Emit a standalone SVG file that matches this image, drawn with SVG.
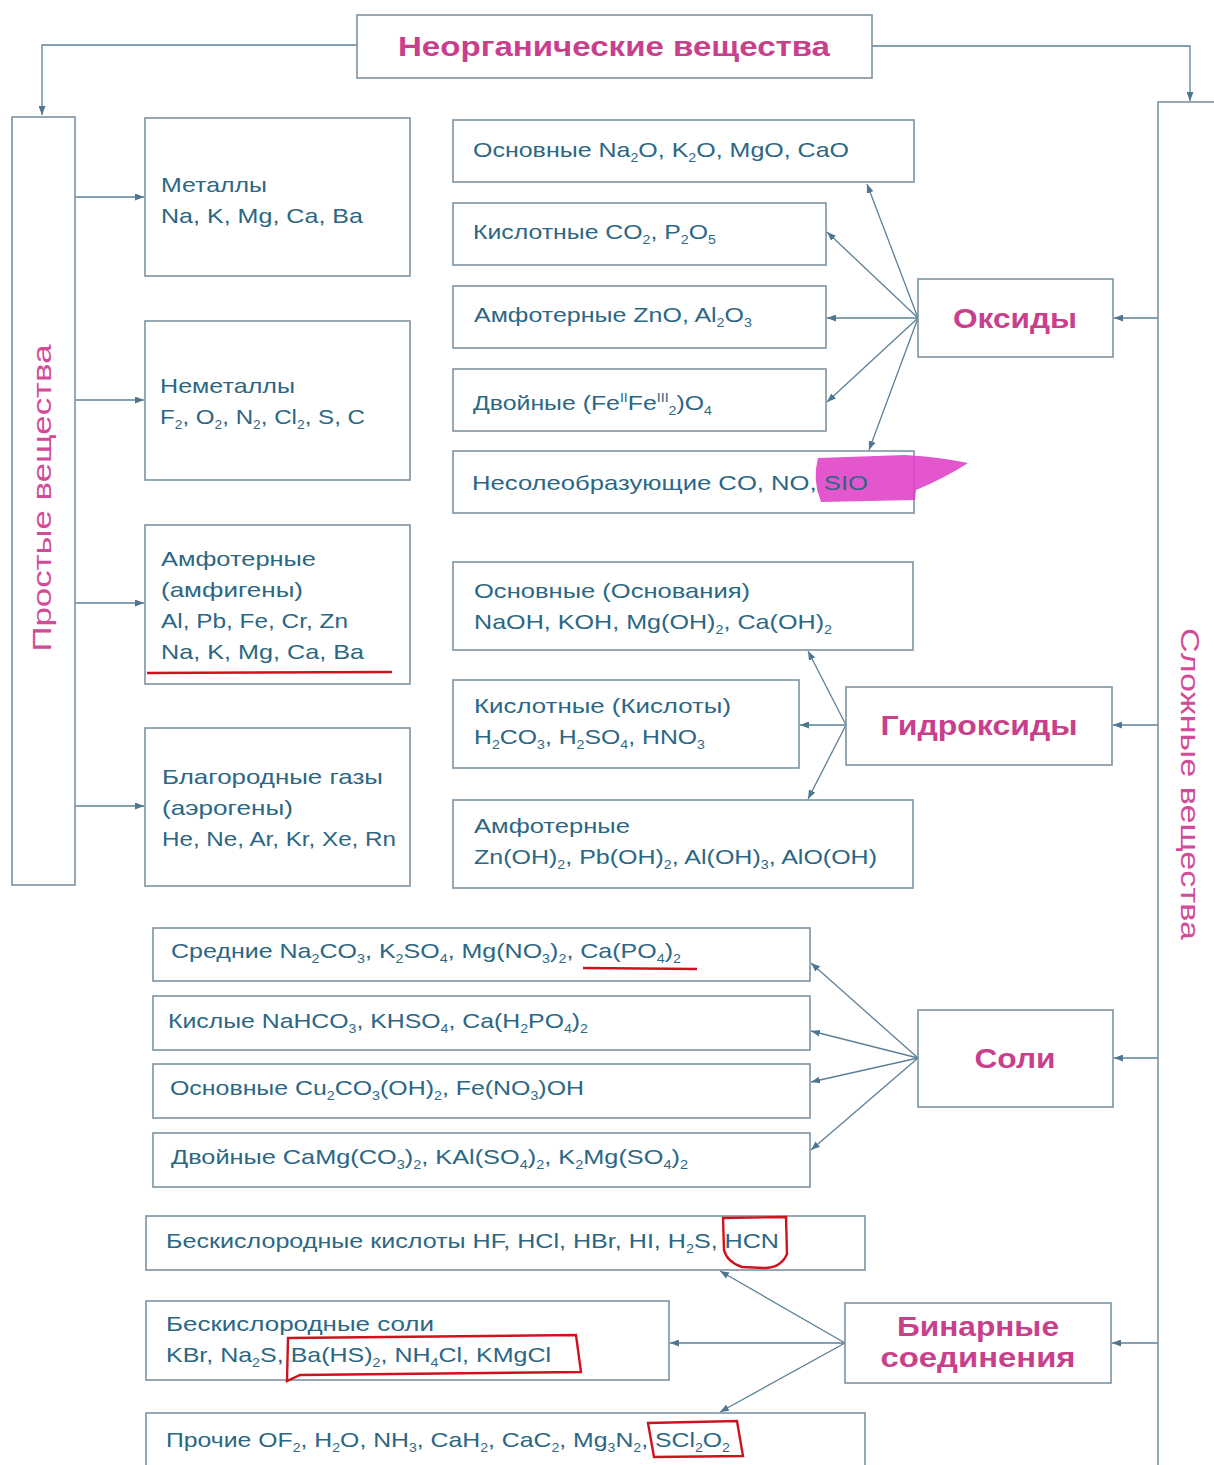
<svg xmlns="http://www.w3.org/2000/svg" width="1214" height="1465" viewBox="0 0 1214 1465">
<style>
.bx{fill:#fff;stroke:#7c93a2;stroke-width:1.6}
.t{font-family:"Liberation Sans",Arial,sans-serif;font-size:21px;fill:#2c6784}
.h{font-family:"Liberation Sans",Arial,sans-serif;font-weight:bold;fill:#c83f8c}
.v{font-family:"Liberation Sans",Arial,sans-serif;font-size:26px;fill:#d24a98}
.s{font-size:12px;baseline-shift:-5px}
.p{font-size:12px;baseline-shift:8px}
.c{fill:none;stroke:#5d8096;stroke-width:1.3}
.red{fill:none;stroke:#d0121f;stroke-width:2.4}
</style>
<defs>
<marker id="a" markerWidth="9" markerHeight="7" refX="9" refY="3.5" orient="auto" markerUnits="userSpaceOnUse">
<path d="M0,0 L9,3.5 L0,7 z" fill="#4f7690"/>
</marker>
</defs>
<rect width="1214" height="1465" fill="#fff"/>

<g id="connectors">
<path class="c" d="M357,45 H42 V115" marker-end="url(#a)"/>
<path class="c" d="M872,46 H1190 V101" marker-end="url(#a)"/>
<path class="c" d="M75,197 H144" marker-end="url(#a)"/>
<path class="c" d="M75,400 H144" marker-end="url(#a)"/>
<path class="c" d="M75,603 H144" marker-end="url(#a)"/>
<path class="c" d="M75,806 H144" marker-end="url(#a)"/>
<path class="c" d="M1158,318 H1114" marker-end="url(#a)"/>
<path class="c" d="M1158,725 H1113" marker-end="url(#a)"/>
<path class="c" d="M1158,1058 H1114" marker-end="url(#a)"/>
<path class="c" d="M1158,1343 H1112" marker-end="url(#a)"/>
<path class="c" d="M918,318 L867,184" marker-end="url(#a)"/>
<path class="c" d="M918,318 L827,232" marker-end="url(#a)"/>
<path class="c" d="M918,318 H827" marker-end="url(#a)"/>
<path class="c" d="M918,318 L827,402" marker-end="url(#a)"/>
<path class="c" d="M918,318 L869,450" marker-end="url(#a)"/>
<path class="c" d="M846,725 L808,651" marker-end="url(#a)"/>
<path class="c" d="M846,725 H800" marker-end="url(#a)"/>
<path class="c" d="M846,725 L808,799" marker-end="url(#a)"/>
<path class="c" d="M918,1058 L811,963" marker-end="url(#a)"/>
<path class="c" d="M918,1058 L811,1031" marker-end="url(#a)"/>
<path class="c" d="M918,1058 L811,1082" marker-end="url(#a)"/>
<path class="c" d="M918,1058 L811,1150" marker-end="url(#a)"/>
<path class="c" d="M845,1343 L720,1271" marker-end="url(#a)"/>
<path class="c" d="M845,1343 H670" marker-end="url(#a)"/>
<path class="c" d="M845,1343 L720,1412" marker-end="url(#a)"/>
</g>

<g id="n-inorganic">
<rect class="bx" x="357" y="15" width="515" height="63"/>
<text class="h" x="614" y="56" font-size="28" text-anchor="middle" textLength="432" lengthAdjust="spacingAndGlyphs">Неорганические вещества</text>
</g>

<g id="n-simple">
<rect class="bx" x="12" y="117" width="63" height="768"/>
<text class="v" transform="translate(51,498) rotate(-90)" text-anchor="middle" textLength="307" lengthAdjust="spacingAndGlyphs">Простые вещества</text>
</g>

<g id="n-complex">
<rect class="bx" x="1158" y="102" width="70" height="1380"/>
<text class="v" transform="translate(1181,784) rotate(90)" text-anchor="middle" textLength="312" lengthAdjust="spacingAndGlyphs">Сложные вещества</text>
</g>

<g id="n-metals">
<rect class="bx" x="145" y="118" width="265" height="158"/>
<text class="t" x="161" y="192" textLength="106" lengthAdjust="spacingAndGlyphs">Металлы</text>
<text class="t" x="161" y="223" textLength="202" lengthAdjust="spacingAndGlyphs">Na, K, Mg, Ca, Ba</text>
</g>

<g id="n-nonmetals">
<rect class="bx" x="145" y="321" width="265" height="159"/>
<text class="t" x="160" y="393" textLength="135" lengthAdjust="spacingAndGlyphs">Неметаллы</text>
<text class="t" x="160" y="424" textLength="205" lengthAdjust="spacingAndGlyphs">F<tspan class="s">2</tspan>, O<tspan class="s">2</tspan>, N<tspan class="s">2</tspan>, Cl<tspan class="s">2</tspan>, S, C</text>
</g>

<g id="n-amph-simple">
<rect class="bx" x="145" y="525" width="265" height="159"/>
<text class="t" x="161" y="566" textLength="155" lengthAdjust="spacingAndGlyphs">Амфотерные</text>
<text class="t" x="161" y="597" textLength="142" lengthAdjust="spacingAndGlyphs">(амфигены)</text>
<text class="t" x="161" y="628" textLength="187" lengthAdjust="spacingAndGlyphs">Al, Pb, Fe, Cr, Zn</text>
<text class="t" x="161" y="659" textLength="203" lengthAdjust="spacingAndGlyphs">Na, K, Mg, Ca, Ba</text>
<path class="red" d="M147,673 L392,672"/>
</g>

<g id="n-noble">
<rect class="bx" x="145" y="728" width="265" height="158"/>
<text class="t" x="162" y="784" textLength="221" lengthAdjust="spacingAndGlyphs">Благородные газы</text>
<text class="t" x="162" y="815" textLength="131" lengthAdjust="spacingAndGlyphs">(аэрогены)</text>
<text class="t" x="162" y="846" textLength="234" lengthAdjust="spacingAndGlyphs">He, Ne, Ar, Kr, Xe, Rn</text>
</g>

<g id="n-ox-basic">
<rect class="bx" x="453" y="120" width="461" height="62"/>
<text class="t" x="473" y="157" textLength="376" lengthAdjust="spacingAndGlyphs">Основные Na<tspan class="s">2</tspan>O, K<tspan class="s">2</tspan>O, MgO, CaO</text>
</g>
<g id="n-ox-acid">
<rect class="bx" x="453" y="203" width="373" height="62"/>
<text class="t" x="473" y="239" textLength="243" lengthAdjust="spacingAndGlyphs">Кислотные CO<tspan class="s">2</tspan>, P<tspan class="s">2</tspan>O<tspan class="s">5</tspan></text>
</g>
<g id="n-ox-amph">
<rect class="bx" x="453" y="286" width="373" height="62"/>
<text class="t" x="474" y="322" textLength="278" lengthAdjust="spacingAndGlyphs">Амфотерные ZnO, Al<tspan class="s">2</tspan>O<tspan class="s">3</tspan></text>
</g>
<g id="n-ox-double">
<rect class="bx" x="453" y="369" width="373" height="62"/>
<text class="t" x="473" y="410" textLength="239" lengthAdjust="spacingAndGlyphs">Двойные (Fe<tspan class="p">II</tspan>Fe<tspan class="p">III</tspan><tspan class="s">2</tspan>)O<tspan class="s">4</tspan></text>
</g>
<g id="n-ox-nonsalt">
<rect class="bx" x="453" y="451" width="461" height="62"/>
<path d="M818,458 L905,455 Q940,457 968,463 Q945,478 916,490 L915,500 L821,502 Q812,480 818,458 Z" fill="#e03fc6" opacity="0.88"/>
<text class="t" x="472" y="490" textLength="396" lengthAdjust="spacingAndGlyphs">Несолеобразующие  CO, NO, SIO</text>
</g>
<g id="n-oxides">
<rect class="bx" x="918" y="279" width="195" height="78"/>
<text class="h" x="1015" y="328" font-size="27" text-anchor="middle" textLength="124" lengthAdjust="spacingAndGlyphs">Оксиды</text>
</g>

<g id="n-hy-basic">
<rect class="bx" x="453" y="562" width="460" height="88"/>
<text class="t" x="474" y="598" textLength="276" lengthAdjust="spacingAndGlyphs">Основные (Основания)</text>
<text class="t" x="474" y="629" textLength="358" lengthAdjust="spacingAndGlyphs">NaOH, KOH, Mg(OH)<tspan class="s">2</tspan>, Ca(OH)<tspan class="s">2</tspan></text>
</g>
<g id="n-hy-acid">
<rect class="bx" x="453" y="680" width="346" height="88"/>
<text class="t" x="474" y="713" textLength="257" lengthAdjust="spacingAndGlyphs">Кислотные (Кислоты)</text>
<text class="t" x="474" y="744" textLength="231" lengthAdjust="spacingAndGlyphs">H<tspan class="s">2</tspan>CO<tspan class="s">3</tspan>, H<tspan class="s">2</tspan>SO<tspan class="s">4</tspan>, HNO<tspan class="s">3</tspan></text>
</g>
<g id="n-hy-amph">
<rect class="bx" x="453" y="800" width="460" height="88"/>
<text class="t" x="474" y="833" textLength="156" lengthAdjust="spacingAndGlyphs">Амфотерные</text>
<text class="t" x="474" y="864" textLength="403" lengthAdjust="spacingAndGlyphs">Zn(OH)<tspan class="s">2</tspan>, Pb(OH)<tspan class="s">2</tspan>, Al(OH)<tspan class="s">3</tspan>, AlO(OH)</text>
</g>
<g id="n-hydroxides">
<rect class="bx" x="846" y="687" width="266" height="78"/>
<text class="h" x="979" y="735" font-size="27" text-anchor="middle" textLength="197" lengthAdjust="spacingAndGlyphs">Гидроксиды</text>
</g>

<g id="n-salt-mid">
<rect class="bx" x="153" y="928" width="657" height="53"/>
<text class="t" x="171" y="958" textLength="510" lengthAdjust="spacingAndGlyphs">Средние Na<tspan class="s">2</tspan>CO<tspan class="s">3</tspan>, K<tspan class="s">2</tspan>SO<tspan class="s">4</tspan>, Mg(NO<tspan class="s">3</tspan>)<tspan class="s">2</tspan>, Ca(PO<tspan class="s">4</tspan>)<tspan class="s">2</tspan></text>
<path class="red" d="M583,968 L697,969"/>
</g>
<g id="n-salt-acid">
<rect class="bx" x="153" y="996" width="657" height="54"/>
<text class="t" x="168" y="1028" textLength="420" lengthAdjust="spacingAndGlyphs">Кислые NaHCO<tspan class="s">3</tspan>, KHSO<tspan class="s">4</tspan>, Ca(H<tspan class="s">2</tspan>PO<tspan class="s">4</tspan>)<tspan class="s">2</tspan></text>
</g>
<g id="n-salt-basic">
<rect class="bx" x="153" y="1064" width="657" height="54"/>
<text class="t" x="170" y="1095" textLength="414" lengthAdjust="spacingAndGlyphs">Основные Cu<tspan class="s">2</tspan>CO<tspan class="s">3</tspan>(OH)<tspan class="s">2</tspan>, Fe(NO<tspan class="s">3</tspan>)OH</text>
</g>
<g id="n-salt-double">
<rect class="bx" x="153" y="1133" width="657" height="54"/>
<text class="t" x="171" y="1164" textLength="517" lengthAdjust="spacingAndGlyphs">Двойные CaMg(CO<tspan class="s">3</tspan>)<tspan class="s">2</tspan>, KAl(SO<tspan class="s">4</tspan>)<tspan class="s">2</tspan>, K<tspan class="s">2</tspan>Mg(SO<tspan class="s">4</tspan>)<tspan class="s">2</tspan></text>
</g>
<g id="n-salts">
<rect class="bx" x="918" y="1010" width="195" height="97"/>
<text class="h" x="1015" y="1068" font-size="27" text-anchor="middle" textLength="81" lengthAdjust="spacingAndGlyphs">Соли</text>
</g>

<g id="n-bin-acid">
<rect class="bx" x="146" y="1216" width="719" height="54"/>
<text class="t" x="166" y="1248" textLength="613" lengthAdjust="spacingAndGlyphs">Бескислородные кислоты HF, HCl, HBr, HI, H<tspan class="s">2</tspan>S, HCN</text>
<path class="red" d="M723,1218 L786,1217 L787,1254 Q781,1268 764,1268 L742,1267 Q727,1262 724,1250 Z"/>
</g>
<g id="n-bin-salt">
<rect class="bx" x="146" y="1301" width="523" height="79"/>
<text class="t" x="166" y="1331" textLength="268" lengthAdjust="spacingAndGlyphs">Бескислородные соли</text>
<text class="t" x="166" y="1362" textLength="385" lengthAdjust="spacingAndGlyphs">KBr, Na<tspan class="s">2</tspan>S, Ba(HS)<tspan class="s">2</tspan>, NH<tspan class="s">4</tspan>Cl, KMgCl</text>
<path class="red" d="M288,1338 L576,1335 L581,1372 L300,1375 L287,1381 Z"/>
</g>
<g id="n-bin-other">
<rect class="bx" x="146" y="1413" width="719" height="60"/>
<text class="t" x="166" y="1447" textLength="564" lengthAdjust="spacingAndGlyphs">Прочие OF<tspan class="s">2</tspan>, H<tspan class="s">2</tspan>O, NH<tspan class="s">3</tspan>, CaH<tspan class="s">2</tspan>, CaC<tspan class="s">2</tspan>, Mg<tspan class="s">3</tspan>N<tspan class="s">2</tspan>, SCl<tspan class="s">2</tspan>O<tspan class="s">2</tspan></text>
<path class="red" d="M648,1423 L737,1421 L743,1456 L654,1457 Z"/>
</g>
<g id="n-binary">
<rect class="bx" x="845" y="1303" width="266" height="80"/>
<text class="h" x="978" y="1336" font-size="27" text-anchor="middle" textLength="162" lengthAdjust="spacingAndGlyphs">Бинарные</text>
<text class="h" x="978" y="1367" font-size="27" text-anchor="middle" textLength="195" lengthAdjust="spacingAndGlyphs">соединения</text>
</g>
</svg>
